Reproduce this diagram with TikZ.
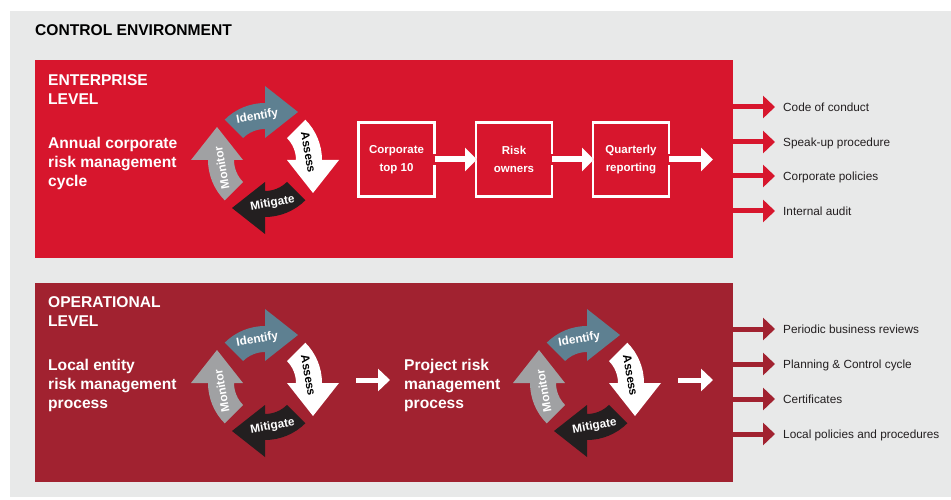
\documentclass[tikz,border=0pt]{standalone}
\usepackage{fontspec}
\setmainfont{Liberation Sans}
\usepackage{tikz}
\usetikzlibrary{positioning}
\usetikzlibrary{arrows.meta}
\definecolor{bggray}{RGB}{232,233,233}
\definecolor{entred}{RGB}{215,22,45}
\definecolor{opsred}{RGB}{161,34,48}
\definecolor{idblue}{RGB}{94,128,145}
\definecolor{mongray}{RGB}{160,161,163}
\definecolor{mitblack}{RGB}{35,31,32}
\definecolor{txtdark}{RGB}{35,31,32}
\tikzset{
	panel/.style={minimum width=698, minimum height=198, inner sep=0, outer sep=0},
	heading/.style={anchor=west, inner sep=0, align=left, text=white, font=\bfseries\fontsize{15.6}{19}\selectfont},
	stepbox/.style={draw=white, line width=2.8pt, minimum width=76, minimum height=74, inner sep=0, outer sep=0, align=center, text=white, font=\bfseries\fontsize{11.5}{18}\selectfont},
	gapline/.style={draw=entred, line width=11pt, -{Triangle[length=16pt,width=29pt]}},
	flowarrow/.style={draw=white, line width=6pt, -{Triangle[length=12pt,width=23pt]}},
	plainarrow/.style={draw=white, line width=5pt, -{Triangle[length=12pt,width=22pt]}},
	listitem/.style={anchor=west, inner sep=0, text height=8.5pt, text depth=0pt, text=txtdark, font=\fontsize{11.8}{14}\selectfont},
	listarrow/.style={line width=5pt, -{Triangle[length=12pt,width=22pt]}},
	cyclabel/.style={inner sep=0, font=\bfseries\fontsize{11.8}{13}\selectfont}
}
\begin{document}
\begin{tikzpicture}[x=1pt,y=1pt]
			\useasboundingbox (0,0) rectangle (951,499);
			\fill[bggray] (10,2) rectangle (951,488);
			\node at (35,469) (title) [anchor=west, inner sep=0, font=\bfseries\fontsize{15.6}{19}\selectfont] {CONTROL ENVIRONMENT};
			% the two levels
			\node at (384,340) (ent) [panel, fill=entred] {};
			\node at (384,116.5) (ops) [panel, fill=opsred, minimum height=199] {};
			\node at (48,409.5) (enthead) [heading] {ENTERPRISE\\LEVEL};
			\node at (48,336) (anncycle) [heading] {Annual corporate\\risk management\\cycle};
			\node at (48,187.5) (opshead) [heading] {OPERATIONAL\\LEVEL};
			\node at (48,114) (locprocess) [heading] {Local entity\\risk management\\process};
			\node at (404,114) (projprocess) [heading] {Project risk\\management\\process};
			% cycles
			\foreach \cx/\cy in {265/339, 265/116, 587/116}{
				\foreach \rot/\col/\tcol/\lab/\trot in {0/idblue/white/Identify/10, -90/white/black/Assess/-80, -180/mitblack/white/Mitigate/10, -270/mongray/white/Monitor/100}{
					\begin{scope}[shift={(\cx,\cy)}, rotate=\rot]
						\fill[\col] (135:31) -- (135:57) arc[start angle=135, end angle=90, radius=57] -- (0,74) -- (33,48) -- (0,22) -- (0,31) arc[start angle=90, end angle=135, radius=31] -- cycle;
						\node at (100:44) (c\cx\cy\lab) [cyclabel, text=\tcol, rotate=\trot] {\lab};
					\end{scope}
				}
			}
			% enterprise steps
			\node at (396.5,339.5) (corptop) [stepbox] {Corporate\\top 10};
			\node at (514,339.5) (owners) [stepbox] {Risk\\owners};
			\node at (631,339.5) (reporting) [stepbox] {Quarterly\\reporting};
			\coordinate (entout) at (713,339.5);
			\draw[gapline] ([xshift=-2pt]corptop.east) -- ([xshift=1pt]owners.west); \draw[flowarrow] (corptop.east) -- ([xshift=1pt]owners.west);
			\draw[gapline] ([xshift=-2pt]owners.east) -- ([xshift=1pt]reporting.west); \draw[flowarrow] (owners.east) -- ([xshift=1pt]reporting.west);
			\draw[gapline] ([xshift=-2pt]reporting.east) -- (entout); \draw[flowarrow] (reporting.east) -- (entout);
			% operational arrows
			\coordinate (projin) at (356,119);
			\coordinate (cycout) at (678,119);
			\coordinate (opsout) at (713,119);
			\draw[plainarrow, shorten >=14pt] (projin) -- (projprocess.west |- projin);
			\draw[plainarrow] (cycout) -- (opsout);
			% outputs
			\node at (783,392) (conduct) [listitem] {Code of conduct};
			\node at (783,357) (speakup) [listitem] {Speak-up procedure};
			\node at (783,323) (corppol) [listitem] {Corporate policies};
			\node at (783,288) (audit) [listitem] {Internal audit};
			\node at (783,170) (reviews) [listitem] {Periodic business reviews};
			\node at (783,135) (plancycle) [listitem] {Planning \& Control cycle};
			\node at (783,100) (certs) [listitem] {Certificates};
			\node at (783,65) (locpol) [listitem] {Local policies and procedures};
			\foreach \item in {conduct, speakup, corppol, audit}
				\draw[listarrow, entred] (ent.east |- \item.west) -- ([xshift=-8pt]\item.west);
			\foreach \item in {reviews, plancycle, certs, locpol}
				\draw[listarrow, opsred] (ops.east |- \item.west) -- ([xshift=-8pt]\item.west);
\end{tikzpicture}
\end{document}
